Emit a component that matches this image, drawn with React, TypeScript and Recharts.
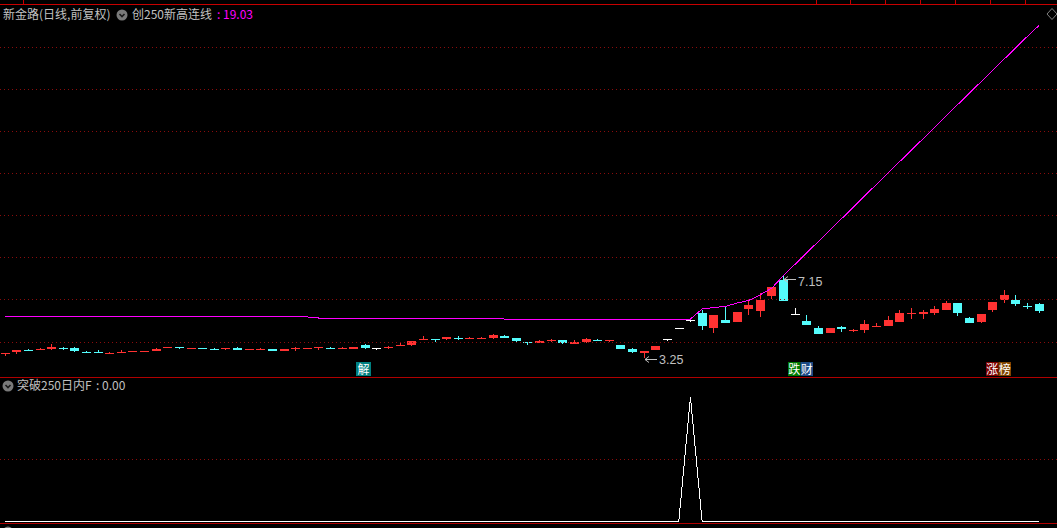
import {
  Bar,
  ComposedChart,
  Line,
  LineChart,
  ReferenceDot,
  ReferenceLine,
  XAxis,
  YAxis,
} from "recharts";

// daily candles (index 0..89)
const opens = [
  3.45, 3.53, 3.62, 3.62, 3.67, 3.71, 3.72, 3.53, 3.53, 3.43,
  3.48, 3.53, 3.53, 3.57, 3.72, 3.76, 3.67, 3.72, 3.67, 3.67,
  3.72, 3.62, 3.62, 3.67, 3.57, 3.67, 3.67, 3.72, 3.72, 3.67,
  3.67, 3.86, 3.72, 3.72, 3.81, 3.86, 4.1, 4.14, 4.14, 4.2,
  4.14, 4.14, 4.2, 4.3, 4.19, 4.0, 3.97, 4.06, 4.1, 3.92,
  4.01, 4.1, 4.05, 3.86, 3.68, 3.49, 3.62, 4.16, 4.6, 5.04,
  5.39, 4.68, 5.04, 4.95, 5.55, 5.47, 6.18, 6.94, 5.33, 5.0,
  4.65, 4.41, 4.7, 4.52, 4.57, 4.71, 4.77, 4.96, 5.33, 5.31,
  5.36, 5.52, 5.87, 5.15, 4.95, 5.52, 5.99, 5.99, 5.71, 5.8,
];
const highs = [
  3.5, 3.62, 3.67, 3.72, 3.9, 3.76, 3.76, 3.57, 3.62, 3.53,
  3.62, 3.57, 3.57, 3.72, 3.76, 3.76, 3.72, 3.72, 3.72, 3.72,
  3.76, 3.67, 3.72, 3.67, 3.67, 3.76, 3.72, 3.76, 3.76, 3.76,
  3.76, 3.9, 3.72, 3.81, 3.95, 4.05, 4.28, 4.14, 4.24, 4.28,
  4.25, 4.25, 4.38, 4.35, 4.19, 4.0, 4.1, 4.15, 4.1, 4.1,
  4.19, 4.14, 4.1, 3.86, 3.73, 3.57, 3.82, 4.16, 4.6, 5.04,
  5.52, 5.28, 5.68, 5.44, 5.99, 6.31, 6.62, 7.15, 5.6, 5.28,
  4.76, 4.65, 4.76, 4.6, 5.04, 4.92, 5.23, 5.52, 5.63, 5.52,
  5.71, 5.95, 5.87, 5.2, 5.33, 5.91, 6.47, 6.23, 5.87, 5.87,
];
const lows = [
  3.33, 3.43, 3.57, 3.62, 3.62, 3.62, 3.53, 3.48, 3.48, 3.43,
  3.48, 3.53, 3.53, 3.57, 3.72, 3.67, 3.67, 3.67, 3.62, 3.62,
  3.62, 3.62, 3.62, 3.57, 3.57, 3.57, 3.67, 3.62, 3.67, 3.67,
  3.67, 3.67, 3.62, 3.67, 3.81, 3.83, 4.1, 4.0, 4.1, 4.1,
  4.14, 4.14, 4.14, 4.2, 3.95, 3.87, 3.97, 4.0, 3.92, 3.92,
  3.97, 4.05, 4.0, 3.68, 3.5, 3.25, 3.62, 4.05, 4.6, 4.95,
  4.57, 4.44, 4.92, 4.95, 5.28, 5.2, 6.05, 5.96, 5.33, 4.82,
  4.37, 4.41, 4.49, 4.5, 4.44, 4.71, 4.77, 4.96, 5.1, 5.1,
  5.28, 5.52, 5.23, 4.89, 4.89, 5.44, 5.84, 5.72, 5.58, 5.39,
];
const closes = [
  3.46, 3.62, 3.57, 3.67, 3.76, 3.67, 3.57, 3.48, 3.48, 3.48,
  3.53, 3.57, 3.57, 3.67, 3.76, 3.72, 3.72, 3.67, 3.62, 3.72,
  3.62, 3.67, 3.67, 3.57, 3.67, 3.71, 3.72, 3.76, 3.67, 3.72,
  3.76, 3.72, 3.72, 3.76, 3.86, 4.05, 4.14, 4.1, 4.24, 4.14,
  4.19, 4.19, 4.33, 4.2, 4.05, 3.97, 4.06, 4.1, 3.97, 4.01,
  4.14, 4.05, 4.1, 3.68, 3.54, 3.57, 3.82, 4.16, 4.6, 5.04,
  4.76, 5.28, 4.92, 5.44, 5.76, 5.99, 6.6, 5.96, 5.33, 4.82,
  4.37, 4.65, 4.6, 4.57, 4.85, 4.76, 5.04, 5.39, 5.38, 5.41,
  5.57, 5.87, 5.39, 4.89, 5.33, 5.91, 6.23, 5.8, 5.69, 5.47,
];

// 创250新高连线
const highLine = [
  5.23, 5.23, 5.23, 5.23, 5.23, 5.23, 5.23, 5.23, 5.23, 5.23,
  5.19, 5.19, 5.19, 5.19, 5.19, 5.19, 5.19, 5.19, 5.19, 5.19,
  5.19, 5.19, 5.19, 5.19, 5.19, 5.19, 5.19, 5.14, 5.14, 5.14,
  5.14, 5.14, 5.14, 5.14, 5.14, 5.14, 5.14, 5.14, 5.14, 5.14,
  5.14, 5.14, 5.14, 5.09, 5.09, 5.09, 5.09, 5.09, 5.09, 5.09,
  5.09, 5.09, 5.09, 5.09, 5.09, 5.09, 5.09, 5.09, 5.09, 5.09,
  5.57, 5.64, 5.69, 5.85, 5.97, 6.24, 6.56, 7.15, 7.69, 8.23,
  8.77, 9.31, 9.85, 10.39, 10.94, 11.48, 12.02, 12.56, 13.1, 13.64,
  14.18, 14.72, 15.27, 15.81, 16.35, 16.89, 17.43, 17.97, 18.51, 19.03,
];

// 突破250日内F
const breakout = [
  0, 0, 0, 0, 0, 0, 0, 0, 0, 0,
  0, 0, 0, 0, 0, 0, 0, 0, 0, 0,
  0, 0, 0, 0, 0, 0, 0, 0, 0, 0,
  0, 0, 0, 0, 0, 0, 0, 0, 0, 0,
  0, 0, 0, 0, 0, 0, 0, 0, 0, 0,
  0, 0, 0, 0, 0, 0, 0, 0, 0, 1,
  0, 0, 0, 0, 0, 0, 0, 0, 0, 0,
  0, 0, 0, 0, 0, 0, 0, 0, 0, 0,
  0, 0, 0, 0, 0, 0, 0, 0, 0, 0,
];

const priceGrid = [4, 6, 8, 10, 12, 14, 16, 18];
const tagIndex = [31, 68, 85];
const tagText = ["解", "跌财", "涨榜"];

const W = 1057;
const X_DOMAIN: [number, number] = [-0.43, 90.55];
const PRICE_DOMAIN: [number, number] = [2.34, 20];
const UP = "#ff3232";
const DOWN = "#54fcfc";
const FLAT = "#ffffff";
const GRID = "#8a0c0c";
const BORDER = "#b00000";
const LABEL = "#c0c0c0";
const FONT = '"Noto Sans CJK SC", "DejaVu Sans", sans-serif';
const tagColors = [["#008080"], ["#007a00", "#1c4a85"], ["#7c0000", "#804400"]];

const data = opens.map((open, i) => ({
  i,
  open,
  high: highs[i],
  low: lows[i],
  close: closes[i],
  range: [lows[i], highs[i]],
  hl: highLine[i],
  bk: breakout[i],
}));

let hiIdx = 0;
let loIdx = 0;
highs.forEach((h, i) => {
  if (h > highs[hiIdx]) hiIdx = i;
});
lows.forEach((l, i) => {
  if (l < lows[loIdx]) loIdx = i;
});

function Candle(props: any) {
  const { x, y, width, height, payload } = props;
  if (!payload) return null;
  const { open, close, high, low } = payload;
  const cx = Math.round(x + width / 2);
  const span = high - low;
  const k = span > 0 ? height / span : 0;
  const top = Math.round(y);
  const bottom = Math.round(y + height);
  const bTop = Math.round(y + (high - Math.max(open, close)) * k);
  const bBot = Math.round(y + (high - Math.min(open, close)) * k);
  const color = close > open ? UP : close < open ? DOWN : FLAT;
  return (
    <g>
      <rect x={cx} y={top} width={1} height={Math.max(1, bottom - top)} fill={color} />
      <rect x={cx - 4} y={bTop} width={9} height={Math.max(1, bBot - bTop)} fill={color} />
    </g>
  );
}

function PriceMark(props: any, value: number, arrowDy: number, textDy: number) {
  const { cx, cy } = props;
  const ay = Math.round(cy + arrowDy) + 0.5;
  const x0 = Math.round(cx) + 1;
  return (
    <g>
      <path
        d={`M${x0 + 4},${ay - 3} L${x0},${ay} L${x0 + 4},${ay + 3} M${x0},${ay} L${x0 + 12},${ay}`}
        stroke={LABEL}
        strokeWidth={1}
        fill="none"
      />
      <text x={x0 + 14} y={cy + textDy} fill={LABEL} fontSize={12.5} fontFamily='"Liberation Sans", sans-serif'>
        {value.toFixed(2)}
      </text>
    </g>
  );
}

function Tag(props: any, k: number) {
  const { cx, cy } = props;
  const chars = tagText[k].split("");
  const cw = chars.length === 1 ? 15 : 12.5;
  const start = Math.round(cx) - (chars.length === 1 ? 9 : 7);
  const top = Math.round(cy) - 10;
  return (
    <g>
      {chars.map((c, j) => (
        <g key={j}>
          <rect x={start + j * cw} y={top} width={cw} height={14} fill={tagColors[k][j]} />
          <text
            x={start + j * cw + cw / 2}
            y={top + 11.5}
            textAnchor="middle"
            fill="#ffffff"
            fontSize={12}
            fontFamily={FONT}
          >
            {c}
          </text>
        </g>
      ))}
    </g>
  );
}

function Icon({ x, y }: { x: number; y: number }) {
  return (
    <svg style={{ position: "absolute", left: x, top: y }} width={12} height={12}>
      <circle cx={6} cy={6} r={5.5} fill="#7a7a7a" />
      <path d="M3.5,5 L6,7.5 L8.5,5" stroke="#1a1a1a" strokeWidth={1.6} fill="none" />
    </svg>
  );
}

const txt = (left: number, top: number, color: string): React.CSSProperties => ({
  position: "absolute",
  left,
  top,
  color,
  fontFamily: FONT,
  fontSize: 12,
  lineHeight: "14px",
  whiteSpace: "pre",
});

export default function App() {
  const lastHigh = highLine[highLine.length - 1];
  const lastBk = breakout[breakout.length - 1];
  return (
    <div
      style={{
        position: "fixed",
        left: 0,
        top: 0,
        width: W,
        height: 528,
        background: "#000",
        overflow: "hidden",
      }}
    >
      {/* frame lines */}
      <div style={{ position: "absolute", left: 0, top: 4, width: W, height: 1, background: "#c80000" }} />
      {[23, 816, 850, 885, 920, 955, 990, 1025].map((tx) => (
        <div key={tx} style={{ position: "absolute", left: tx, top: 0, width: 1, height: 4, background: "#c80000" }} />
      ))}
      <div style={{ position: "absolute", left: 0, top: 377, width: W, height: 1, background: BORDER }} />
      <div style={{ position: "absolute", left: 0, top: 523, width: W, height: 1, background: BORDER }} />

      <div style={{ position: "absolute", left: 0, top: 0 }}>
        <ComposedChart width={W} height={377} data={data} margin={{ top: 5, right: 0, bottom: 0, left: 0 }}>
          <XAxis dataKey="i" type="number" domain={X_DOMAIN} allowDataOverflow hide />
          <YAxis type="number" domain={PRICE_DOMAIN} allowDataOverflow hide />
          {priceGrid.map((v) => (
            <ReferenceLine
              key={v}
              y={v}
              stroke={GRID}
              strokeDasharray="1 3"
              shapeRendering="crispEdges"
            />
          ))}
          <Line
            type="linear"
            dataKey="hl"
            stroke="#ff00ff"
            strokeWidth={1}
            dot={false}
            activeDot={false}
            shapeRendering="crispEdges"
            isAnimationActive={false}
          />
          <Bar dataKey="range" barSize={9} minPointSize={1} shape={Candle} isAnimationActive={false} />
          <ReferenceDot
            x={hiIdx}
            y={highs[hiIdx]}
            r={0}
            shape={(p: any) => PriceMark(p, highs[hiIdx], 3, 10.5)}
          />
          <ReferenceDot
            x={loIdx}
            y={lows[loIdx]}
            r={0}
            shape={(p: any) => PriceMark(p, lows[loIdx], 1, 6)}
          />
          {tagIndex.map((ti, k) => (
            <ReferenceDot key={ti} x={ti} y={2.6} r={0} shape={(p: any) => Tag(p, k)} />
          ))}
        </ComposedChart>
      </div>

      <div style={{ position: "absolute", left: 0, top: 378 }}>
        <LineChart width={W} height={146} data={data} margin={{ top: 18, right: 0, bottom: 2, left: 0 }}>
          <XAxis dataKey="i" type="number" domain={X_DOMAIN} allowDataOverflow hide />
          <YAxis type="number" domain={[-0.008, 1.008]} allowDataOverflow hide />
          <ReferenceLine y={0.5} stroke={GRID} strokeDasharray="1 3" shapeRendering="crispEdges" />
          <Line
            type="linear"
            dataKey="bk"
            stroke="#ffffff"
            strokeWidth={1}
            dot={false}
            activeDot={false}
            shapeRendering="crispEdges"
            isAnimationActive={false}
          />
        </LineChart>
      </div>

      {/* titles */}
      <span style={txt(3, 7, LABEL)}>新金路(日线,前复权)</span>
      <Icon x={116} y={9} />
      <span style={txt(132, 7, LABEL)}>创250新高连线</span>
      <span style={txt(217, 7, "#ff00ff")}>: {lastHigh.toFixed(2)}</span>
      <svg style={{ position: "absolute", left: 1046, top: 8 }} width={12} height={12}>
        <path d="M6,0.5 L11,6 L6,11.5 L1,6 Z" stroke="#808080" fill="none" />
      </svg>

      <Icon x={2} y={380} />
      <span style={txt(17, 378, LABEL)}>突破250日内F</span>
      <span style={txt(96, 378, LABEL)}>: {lastBk.toFixed(2)}</span>

      <Icon x={2} y={526} />
    </div>
  );
}
